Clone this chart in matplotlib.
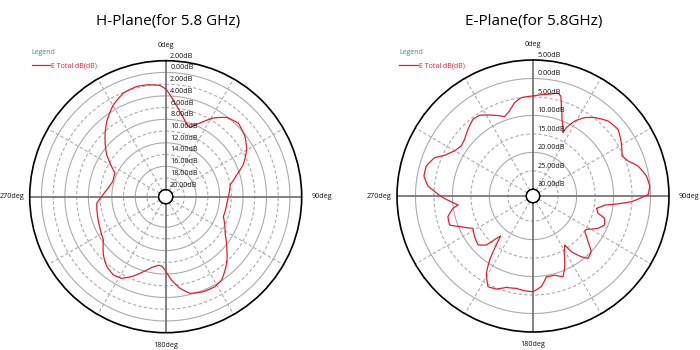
#!/usr/bin/env python3
# -*- coding: utf-8 -*-
"""
Radiation patterns at 5.8 GHz: H-plane and E-plane (E Total, dB).
Output: out.png
"""

import numpy as np
import matplotlib
matplotlib.use("Agg")
import matplotlib.pyplot as plt

plt.rcParams["font.family"] = ["Open Sans", "DejaVu Sans"]

# H-plane: angle (deg, clockwise from 0deg at top) and gain (dB)
H_THETA = [0, 5.7, 11, 16.3, 19.3, 25, 31.2, 37.6, 44.6, 52.7, 59.9, 67.6, 72.8,
           79.4, 89.7, 96.2, 109, 121.7, 129.3, 137.5, 146.1, 151.3, 158.4, 165.9,
           171.1, 176, 180.5, 183.3, 186.1, 191.2, 196.6, 203, 208.3, 213.7, 220.1,
           226.9, 235.2, 244.3, 255, 264.5, 270.3, 278.6, 286, 295, 301.2, 305.4,
           314, 321.9, 330.4, 337.8, 345.3, 351.2, 357.1]
H_DB = [-2.8, -5.15, -6.95, -8.4, -8.67, -7.34, -5.5, -4.14, -3.56, -4.2, -5.23, -6.9,
        -8.5, -10.0, -10.5, -10.7, -10.8, -9.3, -7.75, -5.8, -4.08, -3.7, -3.77, -4.2,
        -5.38, -6.95, -8.7, -9.36, -9.42, -8.9, -7.85, -6.4, -5.38, -5.14, -5.6,
        -6.64, -8.26, -8.77, -9.14, -9.38, -10.3, -11.3, -11.8, -11.66, -10.1, -8.85,
        -6.8, -4.9, -3.15, -2.1, -1.75, -1.87, -2.2]

# E-plane
E_THETA = [0, 8.4, 13.7, 15.5, 17.5, 20.7, 25.3, 26.0, 29.1, 33.4, 38.2, 45, 51.9,
           58.9, 65.8, 69.8, 74.1, 80, 85.1, 89.2, 93.3, 97.2, 101, 104.9, 107.3, 112,
           116.4, 122, 124.6, 129.7, 133.7, 138.6, 141.5, 145.4, 147.1, 150.9, 155.9,
           159.6, 164.7, 170.6, 174.7, 180, 185, 190.2, 196.3, 201.5, 206.4, 211.1,
           214.1, 216.2, 218.9, 220.9, 223.6, 228.3, 235.1, 241.7, 246.8, 250.8,
           256.3, 261.2, 263.2, 266, 269.6, 273.4, 275.4, 280.4, 285.7, 291.3, 294.7,
           299.9, 304.9, 309.7, 315.7, 322, 326.5, 334.6, 340.3, 344.6, 348.9, 353.2]
E_DB = [-4.73, -3.98, -3.2, -3.7, -6.3, -9.6, -12.8, -11.2, -8.6, -6.4, -4.8, -3.1,
        -2.55, -3.9, -5.4, -4.4, -2.24, -0.64, -0.1, -0.6, -5.14, -12.25, -14.3,
        -13.6, -11.5, -10.9, -12.15, -14.8, -14.8, -12.45, -10.0, -9.3, -10.8, -13.5,
        -16.0, -14.55, -10.8, -8.5, -9.6, -9.63, -7.2, -5.9, -6.07, -6.4, -6.05,
        -4.74, -4.4, -7.35, -10.9, -14.24, -17.9, -16.6, -13.5, -11.9, -12.55,
        -13.35, -10.7, -7.9, -8.1, -9.9, -11.4, -9.6, -7.0, -4.7, -3.25, -1.8, -1.8,
        -3.23, -5.5, -7.35, -8.14, -7.77, -6.6, -5.44, -5.62, -7.63, -9.0, -7.94,
        -6.05, -5.0]

# radial rings and their labels (minus signs are not shown in the source)
H_RINGS = [2, 0, -2, -4, -6, -8, -10, -12, -14, -16, -18, -20]
H_RING_LABELS = ["2.00dB", "0.00dB", "2.00dB", "4.00dB", "6.00dB", "8.00dB",
                 "10.00dB", "12.00dB", "14.00dB", "16.00dB", "18.00dB", "20.00dB"]
E_RINGS = [5, 0, -5, -10, -15, -20, -25, -30]
E_RING_LABELS = ["5.00dB", "0.00dB", "5.00dB", "10.00dB", "15.00dB", "20.00dB",
                 "25.00dB", "30.00dB"]

ANGLE_LABELS = ["0deg", "90deg", "180deg", "270deg"]
SPOKES = [30, 60, 120, 150, 210, 240, 300, 330]
AXES_DIRS = [0, 90, 180, 270]

RED = "#e41f2b"
GRID = "#ababab"


def draw_pattern(fig, rect, theta, db, rings, ring_labels, rorigin, title, title_x):
    ax = fig.add_axes(rect, projection="polar")
    ax.set_theta_zero_location("N")
    ax.set_theta_direction(-1)
    rmin, rmax = rings[-1], rings[0]
    ax.set_ylim(rmin, rmax)
    ax.set_rorigin(rorigin)
    ax.grid(False)
    ax.set_xticks([])
    ax.set_yticks([])
    ax.spines["polar"].set_color("black")
    ax.spines["polar"].set_linewidth(1.2)
    if "inner" in ax.spines:
        ax.spines["inner"].set_color("black")
        ax.spines["inner"].set_linewidth(1.0)

    full = np.linspace(0, 2 * np.pi, 361)
    # rings: alternate solid / dashed between outer edge and hole
    for i, v in enumerate(rings[1:-1]):
        ls = "-" if i % 2 == 0 else (0, (3, 2))
        ax.plot(full, np.full_like(full, v), color=GRID, lw=0.8, ls=ls, zorder=1)
    ax.plot(full, np.full_like(full, rmin), color="black", lw=1.0, zorder=3)

    for a in SPOKES:
        t = np.deg2rad(a)
        ax.plot([t, t], [rmin, rmax], color=GRID, lw=0.8, ls=(0, (3, 2)), zorder=1)
    for a in AXES_DIRS:
        t = np.deg2rad(a)
        ax.plot([t, t], [rmin, rmax], color="#777777", lw=1.3, zorder=2)

    # closed pattern curve, drawn with polar path interpolation
    th = np.deg2rad(np.append(theta, theta[0] + 360))
    r = np.append(db, db[0])
    line, = ax.plot(th, r, color=RED, lw=0.9, zorder=4, label="E Total.dB(dB)")
    line.get_path()._interpolation_steps = 12

    for v, s in zip(rings, ring_labels):
        ax.annotate(s, xy=(0, v), xytext=(3.2, 3.3), textcoords="offset points",
                    ha="left", va="center", fontsize=5.2, color="#111111", zorder=5)

    pos = {"0deg": (0.5, 1.057), "90deg": (1.074, 0.5),
           "180deg": (0.5, -0.046), "270deg": (-0.066, 0.5)}
    for s in ANGLE_LABELS:
        x, y = pos[s]
        ax.text(x, y, s, transform=ax.transAxes, ha="center", va="center",
                fontsize=5.2, color="#111111")

    leg = ax.legend(handles=[line], loc="upper left",
                    bbox_to_anchor=(rect[0] + 2 / 700, 1 - 49 / 350),
                    bbox_transform=fig.transFigure, frameon=False, fontsize=5,
                    title="Legend", title_fontsize=5, alignment="left",
                    handlelength=2.7, handletextpad=0.15, borderpad=0,
                    borderaxespad=0, labelspacing=0.3)
    leg._legend_box.sep = 4.5
    leg.get_title().set_color("#3b7dc4")
    for t in leg.get_texts():
        t.set_color(RED)

    fig.text(title_x, 1 - 22 / 350, title, ha="center", va="center", fontsize=11,
             color="black")
    return ax


def main():
    fig = plt.figure(figsize=(7, 3.5), dpi=100)
    fig.patch.set_facecolor("white")

    draw_pattern(fig, [29.7 / 700, 17.3 / 350, 272 / 700, 272 / 350],
                 H_THETA, H_DB, H_RINGS, H_RING_LABELS, -21.19,
                 "H-Plane(for 5.8 GHz)", 167.9 / 700)
    draw_pattern(fig, [397 / 700, 18 / 350, 272 / 700, 272 / 350],
                 E_THETA, E_DB, E_RINGS, E_RING_LABELS, -31.8,
                 "E-Plane(for 5.8GHz)", 533.3 / 700)

    fig.savefig("out.png", dpi=100)
    plt.close(fig)


if __name__ == "__main__":
    main()
